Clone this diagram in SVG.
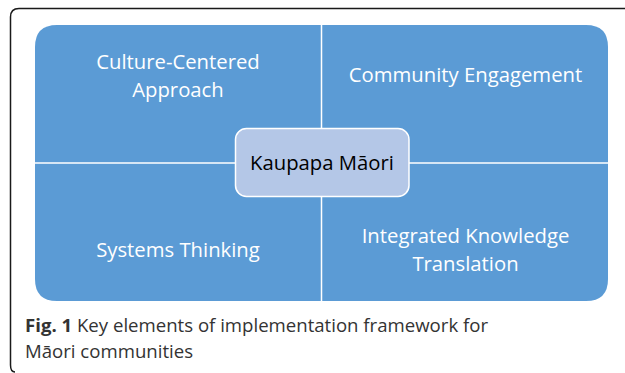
<svg xmlns="http://www.w3.org/2000/svg" width="625" height="373" viewBox="0 0 625 373">
<style>
.q{fill:#5B9BD5;}
.lbl{font-family:"Open Sans","Noto Sans",sans-serif;font-size:20.3px;fill:#FFFFFF;text-anchor:middle;}
.div{stroke:#FFFFFF;stroke-width:1.5;fill:none;}
.cap{font-family:"Open Sans","Noto Sans",sans-serif;font-size:18.6px;fill:#333333;}
</style>
<rect width="625" height="373" fill="#FFFFFF"/>
<path d="M625,8.5 L19,8.5 Q10.5,8.5 10.5,17 L10.5,365 Q10.5,372 15,372" fill="none" stroke="#1a1a1a" stroke-width="1.5"/>
<g id="culture-centered">
<path class="q" d="M35,163 L35,47 Q35,25 57,25 L321.5,25 L321.5,163 Z"/>
<text class="lbl" x="178" y="68.5">Culture-Centered</text>
<text class="lbl" x="178" y="96.5">Approach</text>
</g>
<g id="community-engagement">
<path class="q" d="M321.5,25 L586,25 Q608,25 608,47 L608,163 L321.5,163 Z"/>
<text class="lbl" x="465.5" y="82">Community Engagement</text>
</g>
<g id="systems-thinking">
<path class="q" d="M35,163 L321.5,163 L321.5,301 L57,301 Q35,301 35,279 Z"/>
<text class="lbl" x="178" y="257">Systems Thinking</text>
</g>
<g id="integrated-knowledge-translation">
<path class="q" d="M321.5,163 L608,163 L608,279 Q608,301 586,301 L321.5,301 Z"/>
<text class="lbl" x="465.5" y="243">Integrated Knowledge</text>
<text class="lbl" x="465.5" y="271">Translation</text>
</g>
<g id="connectors">
<line class="div" x1="321.5" y1="25" x2="321.5" y2="301"/>
<line class="div" x1="35" y1="163" x2="608" y2="163"/>
</g>
<g id="kaupapa-maori">
<rect x="235.5" y="128.5" width="173.5" height="68" rx="11" fill="#B4C7E7" stroke="#FFFFFF" stroke-width="1.5"/>
<text x="322" y="170" style="font-family:'Open Sans','Noto Sans',sans-serif;font-size:20.3px;fill:#000000;text-anchor:middle;">Kaupapa Māori</text>
</g>
<text class="cap" x="25" y="332"><tspan font-weight="bold">Fig. 1</tspan> Key elements of implementation framework for</text>
<text class="cap" x="25" y="358">Māori communities</text>
</svg>
